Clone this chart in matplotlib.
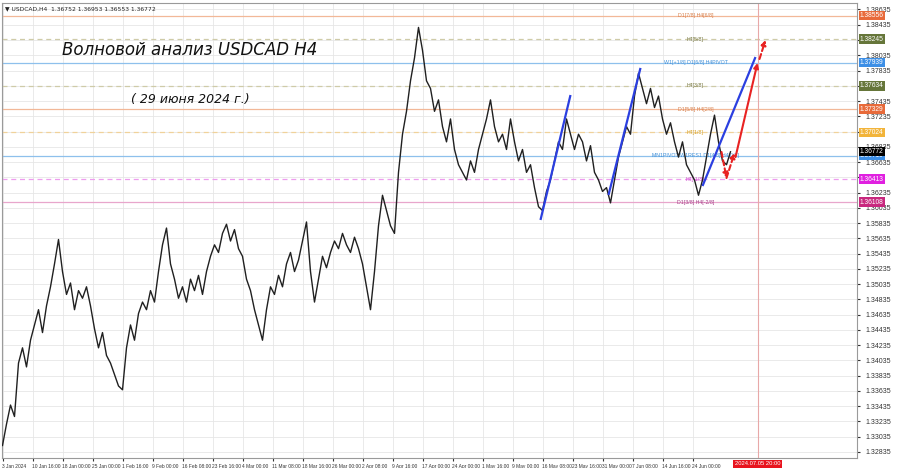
import matplotlib
matplotlib.use('Agg')
import matplotlib.pyplot as plt
import matplotlib.transforms as mtransforms
import numpy as np

# ---------------- data ----------------
# price path sampled every 4 H4 bars
price = [
    1.3292, 1.3320, 1.3345, 1.3330, 1.3400, 1.3420, 1.3395, 1.3430, 1.3450, 1.3470,
    1.3440, 1.3475, 1.3500, 1.3530, 1.3562, 1.3520, 1.3490, 1.3505, 1.3470, 1.3495,
    1.3485, 1.3500, 1.3475, 1.3445, 1.3420, 1.3440, 1.3410, 1.3400, 1.3385, 1.3370,
    1.3365, 1.3420, 1.3450, 1.3430, 1.3465, 1.3480, 1.3470, 1.3495, 1.3480, 1.3520,
    1.3555, 1.3577, 1.3530, 1.3510, 1.3485, 1.3500, 1.3480, 1.3510, 1.3495, 1.3515,
    1.3490, 1.3520, 1.3540, 1.3555, 1.3545, 1.3570, 1.3582, 1.3560, 1.3575, 1.3550,
    1.3540, 1.3510, 1.3495, 1.3470, 1.3450, 1.3430, 1.3470, 1.3500, 1.3490, 1.3515,
    1.3500, 1.3530, 1.3545, 1.3520, 1.3535, 1.3560, 1.3585, 1.3520, 1.3480, 1.3510,
    1.3540, 1.3525, 1.3545, 1.3560, 1.3550, 1.3570, 1.3555, 1.3545, 1.3565, 1.3550,
    1.3530, 1.3500, 1.3470, 1.3520, 1.3580, 1.3620, 1.3600, 1.3580, 1.3570, 1.3650,
    1.3700, 1.3730, 1.3770, 1.3800, 1.3840, 1.3810, 1.3770, 1.3760, 1.3730, 1.3745,
    1.3710, 1.3690, 1.3720, 1.3680, 1.3660, 1.3650, 1.3640, 1.3665, 1.3650, 1.3680,
    1.3700, 1.3720, 1.3745, 1.3710, 1.3690, 1.3700, 1.3680, 1.3720, 1.3690, 1.3665,
    1.3680, 1.3650, 1.3660, 1.3630, 1.3605, 1.3600, 1.3625, 1.3640, 1.3665, 1.3690,
    1.3680, 1.3720, 1.3700, 1.3680, 1.3700, 1.3690, 1.3665, 1.3685, 1.3650, 1.3640,
    1.3625, 1.3630, 1.3610, 1.3640, 1.3670, 1.3690, 1.3710, 1.3700, 1.3750, 1.3780,
    1.3760, 1.3740, 1.3760, 1.3735, 1.3750, 1.3720, 1.3700, 1.3715, 1.3690, 1.3670,
    1.3690, 1.3660, 1.3650, 1.3640, 1.3620, 1.3640, 1.3670, 1.3700, 1.3725, 1.3690,
    1.3665, 1.3660, 1.3677,
]
bar_step = 4

date_labels = [
    "3 Jan 2024", "10 Jan 16:00", "18 Jan 00:00", "25 Jan 00:00", "1 Feb 16:00",
    "9 Feb 00:00", "16 Feb 08:00", "23 Feb 16:00", "4 Mar 00:00", "11 Mar 08:00",
    "18 Mar 16:00", "26 Mar 00:00", "2 Apr 08:00", "9 Apr 16:00", "17 Apr 00:00",
    "24 Apr 00:00", "1 May 16:00", "9 May 00:00", "16 May 08:00", "23 May 16:00",
    "31 May 00:00", "7 Jun 08:00", "14 Jun 16:00", "24 Jun 00:00",
]
label_every = 30
future_label = "2024.07.05 20:00"
future_bar = 755

price_ticks = [1.38635 - 0.002 * k for k in range(30)]

level_prices = [1.38556, 1.38245, 1.37939, 1.37634, 1.37329, 1.37024, 1.36719, 1.36413, 1.36108]
level_names = ["D1[7/8] H4[6/8]", "H4[5/8]", "W1[+1/8] D1[6/8] H4PIVOT", "H4[3/8]",
               "D1[5/8] H4[2/8]", "H4[1/8]", "MN1PIVOT W1RES1 D1[4/8] H4[0/8]",
               "H4[-1/8]", "D1[3/8] H4[-2/8]"]
level_kinds = ["d1", "h4", "pivot", "h4", "d1", "h4y", "pivot", "h4m", "d1m"]
level_label_bar = 693

current_price = 1.36772
header_symbol = "USDCAD,H4"
header_ohlc = [1.36752, 1.36953, 1.36553, 1.36772]

wave_x0 = [538, 606, 700]
wave_p0 = [1.35876, 1.36203, 1.36321]
wave_x1 = [568, 638, 753]
wave_p1 = [1.37514, 1.37869, 1.38012]

fc_x0 = [719, 724, 733, 757]
fc_p0 = [1.36767, 1.36426, 1.36700, 1.37986]
fc_x1 = [724, 732, 755, 763]
fc_p1 = [1.36426, 1.36754, 1.37934, 1.38235]
fc_dashed = [True, True, False, True]

title = "Волновой анализ USDCAD H4"
subtitle = "( 29 июня 2024 г.)"

# ---------------- styles ----------------
kind_line = {"d1": ("#F2B898", "-"), "h4": ("#CFCBA8", (0, (4, 3))),
             "pivot": ("#8EC0EC", "-"), "h4y": ("#F0D29A", (0, (4, 3))),
             "h4m": ("#EE9CEE", (0, (4, 3))), "d1m": ("#E8A6CC", "-")}
kind_text = {"d1": "#D8804C", "h4": "#77773E", "pivot": "#3F8FD8", "h4y": "#D8A020",
             "h4m": "#D040D0", "d1m": "#A8408A"}
kind_box = {"d1": "#E86A3A", "h4": "#66763A", "pivot": "#3D8FE6", "h4y": "#F2B43A",
            "h4m": "#E020E0", "d1m": "#C8287E"}

SMALL = "Liberation Sans"

W, H = 900, 468
fig = plt.figure(figsize=(W / 100, H / 100), dpi=100)
fig.patch.set_facecolor("white")
ax = fig.add_axes([2 / W, 10 / H, 855 / W, 455 / H])
ax.set_facecolor("white")

ax.set_xlim(-0.5, 854.5)
ax.set_ylim(1.32756, 1.38720)

# grid
xt = [label_every * i for i in range(len(date_labels))]
for x in xt:
    ax.axvline(x, color="#E6E6E6", lw=0.6, zorder=0)
for p in price_ticks:
    ax.axhline(p, color="#E6E6E6", lw=0.6, zorder=0)

# levels
for p, name, kind in zip(level_prices, level_names, level_kinds):
    c, ls = kind_line[kind]
    ax.axhline(p, color=c, lw=0.9, ls=ls, zorder=1)
    ax.text(level_label_bar, p, name, color=kind_text[kind], fontsize=3.8, family=SMALL,
            ha="center", va="center", zorder=3)

# future line
ax.axvline(future_bar, color="#E8A8A8", lw=0.8, zorder=1)

# price
xs = np.arange(len(price)) * bar_step
ax.plot(xs, price, color="#202020", lw=1.0, zorder=4)

# waves
for x0, p0, x1, p1 in zip(wave_x0, wave_p0, wave_x1, wave_p1):
    ax.plot([x0, x1], [p0, p1], color="#2B3FE0", lw=1.6, zorder=5, solid_capstyle="butt")

# forecast arrows
for x0, p0, x1, p1, d in zip(fc_x0, fc_p0, fc_x1, fc_p1, fc_dashed):
    ax.annotate("", xy=(x1, p1), xytext=(x0, p0),
                arrowprops=dict(arrowstyle="-|>", color="#E82222", lw=1.5,
                                linestyle=(0, (2.5, 1.5)) if d else "-",
                                mutation_scale=7, shrinkA=0, shrinkB=0),
                zorder=6)

# axes look
for s in ax.spines.values():
    s.set_color("#9A9A9A")
    s.set_linewidth(0.8)

# right price scale: tick labels hidden where a coloured box sits on them
box_prices = level_prices + [current_price]
shown = [p for p in price_ticks if min(abs(p - b) for b in box_prices) > 0.0006]
ax.yaxis.tick_right()
ax.set_yticks(price_ticks)
ax.set_yticklabels([f"{p:.5f}" if p in shown else "" for p in price_ticks],
                   family=SMALL)
ax.tick_params(axis="y", labelsize=5.0, length=2, pad=4, colors="#333333")
ax.set_xticks(xt)
ax.set_xticklabels(date_labels, ha="left", family=SMALL)
ax.tick_params(axis="x", labelsize=3.5, length=2, pad=2, colors="#333333")

# price boxes on the right axis
tr = mtransforms.blended_transform_factory(ax.transAxes, ax.transData)
for p, kind in zip(level_prices, level_kinds):
    ax.text(1.0035, p, f"{p:.5f}", transform=tr, fontsize=4.8, color="white",
            family=SMALL, ha="left", va="center", clip_on=False, zorder=10,
            bbox=dict(boxstyle="square,pad=0.2", fc=kind_box[kind], ec="none"))
ax.text(1.0035, current_price, f"{current_price:.5f}", transform=tr, fontsize=4.8,
        color="white", family=SMALL, ha="left", va="center", clip_on=False, zorder=11,
        bbox=dict(boxstyle="square,pad=0.2", fc="#000000", ec="none"))

# future date label
trx = mtransforms.blended_transform_factory(ax.transData, ax.transAxes)
ax.text(future_bar, -0.0075, future_label, transform=trx, fontsize=4.2, color="white",
        family=SMALL, ha="center", va="top", clip_on=False, zorder=11,
        bbox=dict(boxstyle="square,pad=0.25", fc="#E8141E", ec="none"))

# header
ax.text(0.003, 0.992, "▼ " + header_symbol + "  " + " ".join(f"{v:.5f}" for v in header_ohlc),
        transform=ax.transAxes, fontsize=4.3, color="#222222", ha="left", va="top")

# titles
ax.text(0.22, 0.897, title, transform=ax.transAxes, fontsize=12, style="italic",
        color="#111111", ha="center", va="center")
ax.text(0.22, 0.787, subtitle, transform=ax.transAxes, fontsize=9, style="italic",
        color="#111111", ha="center", va="center")

fig.savefig("out.png", dpi=100, facecolor="white")
